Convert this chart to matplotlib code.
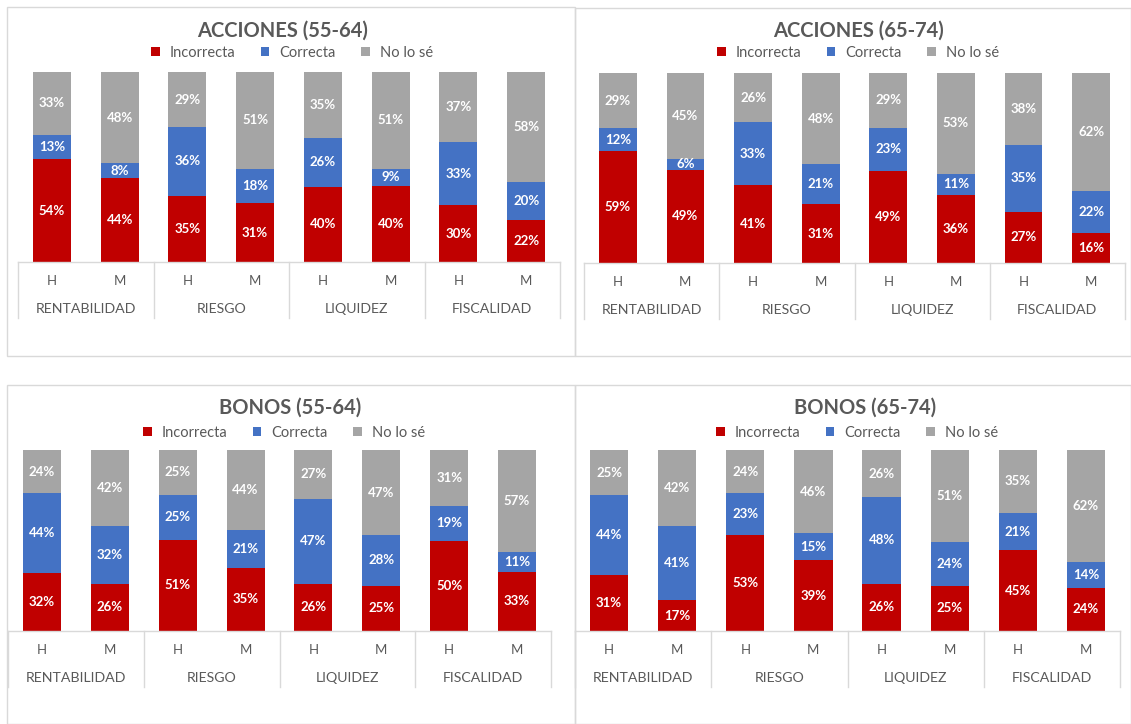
import numpy as np
import matplotlib
matplotlib.use("Agg")
import matplotlib.pyplot as plt
from matplotlib.patches import Rectangle

plt.rcParams["font.family"] = ["Lato", "DejaVu Sans"]

# ── data ──────────────────────────────────────────────────────────────────────
groups = ["RENTABILIDAD", "RIESGO", "LIQUIDEZ", "FISCALIDAD"]
sexes = ["H", "M"]
series = ["Incorrecta", "Correcta", "No lo sé"]
titles = ["ACCIONES (55-64)", "ACCIONES (65-74)", "BONOS (55-64)", "BONOS (65-74)"]

acc_5564_inc = [54, 44, 35, 31, 40, 40, 30, 22]
acc_5564_cor = [13, 8, 36, 18, 26, 9, 33, 20]
acc_5564_ns = [33, 48, 29, 51, 35, 51, 37, 58]

acc_6574_inc = [59, 49, 41, 31, 49, 36, 27, 16]
acc_6574_cor = [12, 6, 33, 21, 23, 11, 35, 22]
acc_6574_ns = [29, 45, 26, 48, 29, 53, 38, 62]

bon_5564_inc = [32, 26, 51, 35, 26, 25, 50, 33]
bon_5564_cor = [44, 32, 25, 21, 47, 28, 19, 11]
bon_5564_ns = [24, 42, 25, 44, 27, 47, 31, 57]

bon_6574_inc = [31, 17, 53, 39, 26, 25, 45, 24]
bon_6574_cor = [44, 41, 23, 15, 48, 24, 21, 14]
bon_6574_ns = [25, 42, 24, 46, 26, 51, 35, 62]

panel_data = [
    (acc_5564_inc, acc_5564_cor, acc_5564_ns),
    (acc_6574_inc, acc_6574_cor, acc_6574_ns),
    (bon_5564_inc, bon_5564_cor, bon_5564_ns),
    (bon_6574_inc, bon_6574_cor, bon_6574_ns),
]

colors = ["#C00000", "#4472C4", "#A5A5A5"]
TXT = "#595959"
GRID = "#D9D9D9"

W, H = 1131, 724
fig = plt.figure(figsize=(W / 100, H / 100), dpi=100)

def fx(px):
    return px / W

def fy(py):
    return 1 - py / H

# layout in pixels: axis x0, x1, bar top, bar bottom, title xy, legend xy, box
layout = [
    dict(x0=18, x1=560, yt=72, yb=262, title=(283, 31), leg=(292, 53), box=(7, 7, 575, 356)),
    dict(x0=584, x1=1125, yt=73, yb=263, title=(858, 31), leg=(858, 53), box=(575, 8, 1131, 356)),
    dict(x0=8, x1=551, yt=450, yb=631, title=(290, 408), leg=(284, 433), box=(7, 385, 575, 724)),
    dict(x0=575, x1=1120, yt=450, yb=631, title=(865, 408), leg=(857, 433), box=(575, 385, 1131, 724)),
]

x = np.arange(len(groups) * len(sexes))
sex_labels = sexes * len(groups)

for title, vals, L in zip(titles, panel_data, layout):
    # panel frame
    bx0, by0, bx1, by1 = L["box"]
    fig.patches.append(Rectangle((fx(bx0), fy(by1)), fx(bx1 - bx0), (by1 - by0) / H,
                                 transform=fig.transFigure, fill=False,
                                 edgecolor=GRID, linewidth=1.0))

    ax = fig.add_axes([fx(L["x0"]), fy(L["yb"]), fx(L["x1"] - L["x0"]),
                       (L["yb"] - L["yt"]) / H])
    hpx = L["yb"] - L["yt"]

    arr = np.array(vals, dtype=float)
    frac = arr / arr.sum(axis=0)
    bottom = np.zeros(len(x))
    handles = []
    for i, name in enumerate(series):
        b = ax.bar(x, frac[i], 0.56, bottom=bottom, color=colors[i], label=name,
                   zorder=2)
        handles.append(b)
        for xi, f, bt, v in zip(x, frac[i], bottom, arr[i]):
            ax.text(xi, bt + f / 2, f"{int(v)}%", ha="center", va="center",
                    color="white", fontsize=9.5, fontweight="bold")
        bottom += frac[i]

    ax.set_xlim(-0.5, len(x) - 0.5)
    ax.set_ylim(0, 1)
    ax.set_xticks([])
    ax.set_yticks([])
    for s in ["top", "right", "left"]:
        ax.spines[s].set_visible(False)
    ax.spines["bottom"].set_color(GRID)
    ax.spines["bottom"].set_linewidth(1.0)

    # category table below the bars
    tr = ax.get_xaxis_transform()
    for sx in np.arange(-0.5, len(x), 2):
        ax.plot([sx, sx], [0, -56 / hpx], color=GRID, lw=1.0, transform=tr,
                clip_on=False)
    for xi, lab in zip(x, sex_labels):
        ax.text(xi, -19 / hpx, lab, ha="center", va="center", color=TXT,
                fontsize=9.5, transform=tr)
    for gi, g in enumerate(groups):
        ax.text(2 * gi + 0.5, -47 / hpx, g, ha="center", va="center", color=TXT,
                fontsize=10.2, transform=tr)

    fig.text(fx(L["title"][0]), fy(L["title"][1]), title, ha="center", va="center",
             fontsize=14.5, fontweight="bold", color=TXT)
    fig.legend(handles=handles, labels=series, loc="center",
               bbox_to_anchor=(fx(L["leg"][0]), fy(L["leg"][1])), ncol=3,
               frameon=False, fontsize=10.5, labelcolor=TXT, handlelength=0.6,
               handleheight=0.6, handletextpad=0.7, columnspacing=1.7)

fig.savefig("out.png", dpi=100)
